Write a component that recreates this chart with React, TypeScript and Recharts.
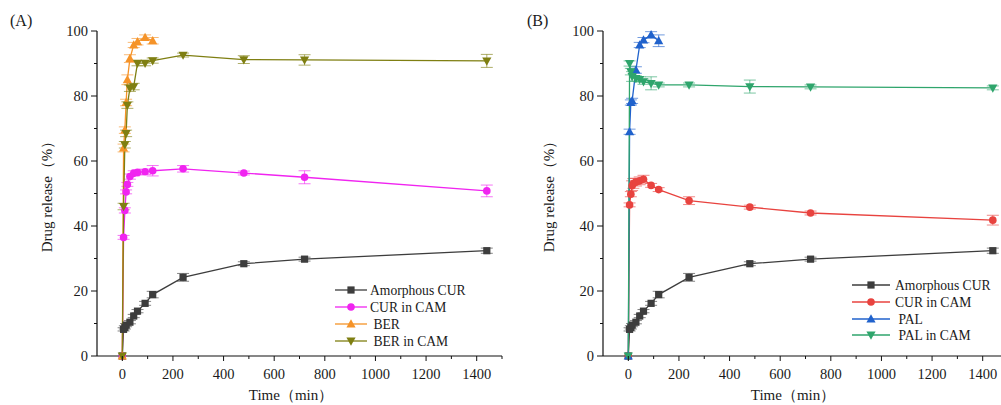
import React from 'react';
import { LineChart, Line, XAxis, YAxis, ErrorBar } from 'recharts';

// ---------- Panel A data ----------
const curTimes = [0, 5, 10, 15, 30, 45, 60, 90, 120, 240, 480, 720, 1440];
const amorphousCur = [0, 8.2, 8.8, 9.5, 10.4, 12.3, 13.8, 16.2, 18.9, 24.2, 28.4, 29.8, 32.4];
const amorphousCurErr = [0, 0.5, 0.5, 0.5, 0.5, 0.5, 0.5, 0.6, 1.0, 1.2, 0.6, 0.6, 0.8];

const curCamTimesA = [0, 5, 10, 15, 20, 30, 45, 60, 90, 120, 240, 480, 720, 1440];
const curCamA = [0, 36.5, 44.8, 50.5, 52.8, 55.2, 56.2, 56.5, 56.7, 57.0, 57.6, 56.3, 55.0, 50.8];
const curCamAErr = [0, 0.6, 0.8, 0.6, 0.6, 0.8, 0.8, 0.8, 0.8, 1.6, 1.0, 0.6, 2.0, 1.8];

const berTimes = [0, 5, 10, 15, 20, 30, 45, 60, 90, 120];
const ber = [0, 64, 69.5, 78, 85, 91.5, 95.7, 96.7, 98.0, 97.0];
const berErr = [0, 1.2, 1.0, 1.0, 1.5, 1.2, 0.8, 1.0, 0.8, 1.0];

const berCamTimes = [0, 5, 10, 15, 20, 30, 45, 60, 90, 120, 240, 480, 720, 1440];
const berCam = [0, 46, 65, 68.5, 77.2, 82.4, 82.9, 90.1, 90.1, 90.9, 92.6, 91.2, 91.1, 90.8];
const berCamErr = [0, 1.0, 1.0, 1.0, 1.0, 1.0, 1.0, 0.8, 0.8, 0.8, 0.6, 1.2, 1.6, 2.0];

// ---------- Panel B data ----------
const curCamTimesB = [0, 5, 10, 15, 20, 30, 45, 60, 90, 120, 240, 480, 720, 1440];
const curCamB = [0, 46.5, 49.8, 52.4, 53.1, 53.5, 53.9, 54.4, 52.5, 51.2, 47.8, 45.8, 44.0, 41.8];
const curCamBErr = [0, 0.6, 0.8, 1.5, 1.5, 1.2, 1.2, 1.2, 0.6, 0.6, 1.2, 0.6, 0.6, 1.5];

const palTimes = [0, 5, 10, 15, 30, 45, 60, 90, 120];
const pal = [0, 69, 78, 78.5, 88, 95.7, 97.2, 98.8, 97.0];
const palErr = [0, 0.8, 0.8, 0.8, 1.0, 0.8, 0.8, 1.0, 1.8];

const palCamTimes = [0, 5, 10, 15, 30, 45, 60, 90, 120, 240, 480, 720, 1440];
const palCam = [0, 90, 87.5, 86, 85.4, 85.1, 84.4, 83.9, 83.4, 83.4, 82.9, 82.8, 82.5];
const palCamErr = [0, 0.8, 1.0, 1.5, 0.8, 0.8, 0.8, 2.0, 0.6, 0.6, 2.0, 0.6, 0.6];

// ---------- axis ticks ----------
const xTicks = [0, 100, 200, 300, 400, 500, 600, 700, 800, 900, 1000, 1100, 1200, 1300, 1400, 1500];
const yTicks = [0, 10, 20, 30, 40, 50, 60, 70, 80, 90, 100];

const legendA = ['Amorphous CUR', 'CUR in CAM', ' BER', ' BER in CAM'];
const legendB = ['Amorphous CUR', 'CUR in CAM', ' PAL', ' PAL in CAM'];

const C_BLACK = '#3d3d3d';
const C_MAGENTA = '#f024f0';
const C_ORANGE = '#f59328';
const C_OLIVE = '#7f7f12';
const C_RED = '#e8433f';
const C_BLUE = '#2062cc';
const C_GREEN = '#2fa56c';

const FONT = '"Liberation Serif", "Times New Roman", serif';
const INK = '#1a1a1a';

type Shape = 'square' | 'circle' | 'up' | 'down';

const toRows = (t: number[], v: number[], e: number[]) => t.map((x, i) => ({ t: x, v: v[i], e: e[i] }));

function Marker({ shape, cx, cy, color }: { shape: Shape; cx: number; cy: number; color: string }) {
  if (cx == null || cy == null) return null;
  if (shape === 'square') return <rect x={cx - 3.6} y={cy - 3.6} width={7.2} height={7.2} fill={color} />;
  if (shape === 'circle') return <circle cx={cx} cy={cy} r={3.8} fill={color} />;
  if (shape === 'up')
    return <polygon points={`${cx},${cy - 4.8} ${cx - 4.6},${cy + 3.4} ${cx + 4.6},${cy + 3.4}`} fill={color} />;
  return <polygon points={`${cx},${cy + 4.8} ${cx - 4.6},${cy - 3.4} ${cx + 4.6},${cy - 3.4}`} fill={color} />;
}

const XTick = (props: any) => {
  const { x, y, payload } = props;
  const major = payload.value % 200 === 0;
  return (
    <g>
      <line x1={x} x2={x} y1={y} y2={y + (major ? 5 : 3)} stroke="#111" strokeWidth={1} />
      {major && (
        <text x={x} y={y + 23} textAnchor="middle" fontFamily={FONT} fontSize={14.5} fill={INK}>
          {payload.value}
        </text>
      )}
    </g>
  );
};

const YTick = (props: any) => {
  const { x, y, payload } = props;
  const major = payload.value % 20 === 0;
  return (
    <g>
      <line x1={x} x2={x - (major ? 6 : 3)} y1={y} y2={y} stroke="#111" strokeWidth={1} />
      {major && (
        <text x={x - 9} y={y + 5} textAnchor="end" fontFamily={FONT} fontSize={14.5} fill={INK}>
          {payload.value}
        </text>
      )}
    </g>
  );
};

type Series = { name: string; rows: { t: number; v: number; e: number }[]; color: string; shape: Shape };

function Panel({ series, width, margin }: { series: Series[]; width: number; margin: any }) {
  return (
    <LineChart width={width} height={405} margin={margin}>
      <XAxis
        dataKey="t"
        type="number"
        domain={[-100, 1500]}
        ticks={xTicks}
        allowDataOverflow
        height={49}
        tickSize={0}
        tickMargin={0}
        tickLine={false}
        tick={<XTick />}
        axisLine={{ stroke: '#111', strokeWidth: 1.2 }}
        interval={0}
      />
      <YAxis
        type="number"
        domain={[0, 100]}
        ticks={yTicks}
        width={97}
        tickSize={0}
        tickMargin={0}
        tickLine={false}
        tick={<YTick />}
        axisLine={{ stroke: '#111', strokeWidth: 1.2 }}
        interval={0}
      />
      {series.map((s) => (
        <Line
          key={s.name}
          data={s.rows}
          dataKey="v"
          name={s.name}
          stroke={s.color}
          strokeWidth={1.3}
          isAnimationActive={false}
          activeDot={false}
          dot={(p: any) => <Marker key={`${s.name}-${p.index}`} shape={s.shape} cx={p.cx} cy={p.cy} color={s.color} />}
        >
          <ErrorBar dataKey="e" direction="y" width={6} stroke={s.color} strokeWidth={0.9} strokeOpacity={0.7} />
        </Line>
      ))}
    </LineChart>
  );
}

const seriesA: Series[] = [
  { name: 'Amorphous CUR', rows: toRows(curTimes, amorphousCur, amorphousCurErr), color: C_BLACK, shape: 'square' },
  { name: 'CUR in CAM', rows: toRows(curCamTimesA, curCamA, curCamAErr), color: C_MAGENTA, shape: 'circle' },
  { name: 'BER', rows: toRows(berTimes, ber, berErr), color: C_ORANGE, shape: 'up' },
  { name: 'BER in CAM', rows: toRows(berCamTimes, berCam, berCamErr), color: C_OLIVE, shape: 'down' },
];

const seriesB: Series[] = [
  { name: 'Amorphous CUR', rows: toRows(curTimes, amorphousCur, amorphousCurErr), color: C_BLACK, shape: 'square' },
  { name: 'CUR in CAM', rows: toRows(curCamTimesB, curCamB, curCamBErr), color: C_RED, shape: 'circle' },
  { name: 'PAL', rows: toRows(palTimes, pal, palErr), color: C_BLUE, shape: 'up' },
  { name: 'PAL in CAM', rows: toRows(palCamTimes, palCam, palCamErr), color: C_GREEN, shape: 'down' },
];

function LegendBlock({
  labels,
  series,
  x1,
  x2,
  tx,
  ys,
}: {
  labels: string[];
  series: Series[];
  x1: number;
  x2: number;
  tx: number;
  ys: number[];
}) {
  return (
    <g>
      {labels.map((l, i) => (
        <g key={l}>
          <line x1={x1} x2={x2} y1={ys[i]} y2={ys[i]} stroke={series[i].color} strokeWidth={1.3} />
          <Marker shape={series[i].shape} cx={(x1 + x2) / 2} cy={ys[i]} color={series[i].color} />
          <text x={tx} y={ys[i] + 5} fontFamily={FONT} fontSize={13.6} fill={INK} xmlSpace="preserve">
            {l}
          </text>
        </g>
      ))}
    </g>
  );
}

export default function App() {
  return (
    <div
      style={{
        position: 'absolute',
        left: 0,
        top: 0,
        width: 1001,
        height: 405,
        overflow: 'hidden',
        background: '#fff',
      }}
    >
      <div style={{ position: 'absolute', left: 0, top: 0 }}>
        <Panel series={seriesA} width={520} margin={{ top: 31, right: 18, left: 0, bottom: 0 }} />
      </div>
      <div style={{ position: 'absolute', left: 506, top: 0 }}>
        <Panel series={seriesB} width={530} margin={{ top: 31, right: 28, left: 0, bottom: 0 }} />
      </div>
      <svg
        width={1001}
        height={405}
        style={{ position: 'absolute', left: 0, top: 0, pointerEvents: 'none' }}
      >
        <text x={10} y={26} fontFamily={FONT} fontSize={16} fill={INK}>(A)</text>
        <text x={527} y={26} fontFamily={FONT} fontSize={16} fill={INK}>(B)</text>
        <text
          x={0}
          y={0}
          transform="translate(52,193) rotate(-90)"
          textAnchor="middle"
          fontFamily={FONT}
          fontSize={15}
          fill={INK}
        >
          Drug release（%）
        </text>
        <text
          x={0}
          y={0}
          transform="translate(554,193) rotate(-90)"
          textAnchor="middle"
          fontFamily={FONT}
          fontSize={15}
          fill={INK}
        >
          Drug release（%）
        </text>
        <text x={291} y={400} textAnchor="middle" fontFamily={FONT} fontSize={15} fill={INK}>
          Time（min）
        </text>
        <text x={793} y={400} textAnchor="middle" fontFamily={FONT} fontSize={15} fill={INK}>
          Time（min）
        </text>
        <LegendBlock labels={legendA} series={seriesA} x1={335} x2={367} tx={370} ys={[290, 307, 324, 341]} />
        <LegendBlock labels={legendB} series={seriesB} x1={852} x2={890} tx={895} ys={[285, 302, 319, 335]} />
      </svg>
    </div>
  );
}
